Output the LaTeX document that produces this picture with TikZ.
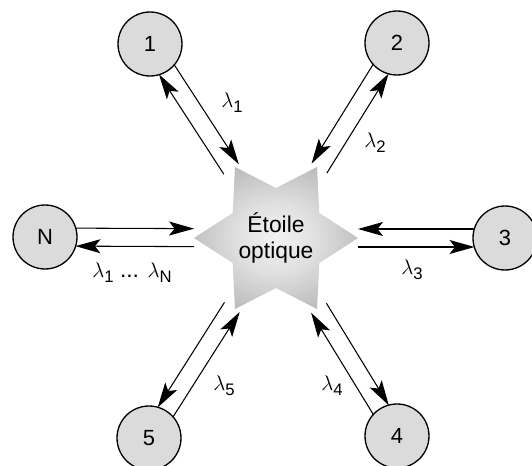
\documentclass[tikz,border=0pt]{standalone}
\usepackage{fontspec}
\setmainfont{Liberation Sans}
\usetikzlibrary{calc,arrows.meta}

\newcommand{\lam}[1]{$\lambda$\raisebox{-3pt}{\fontsize{9.5}{10}\selectfont #1}}
\pgfdeclareradialshading{starshade}{\pgfpoint{0bp}{0bp}}{color(0bp)=(black!5); color(12bp)=(black!12); color(50bp)=(black!48)}

\begin{document}
\begin{tikzpicture}[x=0.02cm, y=-0.02cm,
    station/.style={circle, draw, line width=0.75pt, fill=black!14, minimum size=1.28cm, inner sep=0pt, font=\fontsize{12.5}{14}\selectfont},
    fibre/.style={line width=0.6pt, -{Stealth[length=0.5cm, width=0.28cm, inset=0.11cm]}},
    lbl/.style={font=\fontsize{13}{14}\selectfont}]
  \useasboundingbox (0,0) rectangle (532,466);

  % Draw the optical star
  \begin{scope}[shift={(276,238)}]
    \shade[shading=starshade] (0:82) \foreach \a in {30,90,...,330} {-- (\a:50) -- (\a+30:82)} -- cycle;
  \end{scope}
  \node[align=center, font=\fontsize{13}{15}\selectfont] (star) at (276,238) {Étoile\\optique};

  % Draw the stations
  \node[station] (c1) at (150,44) {1};
  \node[station] (c2) at (397,43) {2};
  \node[station] (c3) at (505,238) {3};
  \node[station] (c4) at (397,436) {4};
  \node[station] (c5) at (149,438) {5};
  \node[station] (cN) at (45,237) {N};

  % Fibres to and from the star
  \foreach \n/\s/\t in {c1/90/-90, cN/90/-90, c5/-90/90, c2/-90/90, c3/-90/90, c4/90/-90} {
    \draw[fibre, shorten <=0.61cm, shorten >=1.64cm] ($(\n)!0.18cm!\s:(star)$) -- ($(star)!0.18cm!\t:(\n)$);
    \draw[fibre, shorten <=1.64cm, shorten >=0.61cm] ($(star)!0.18cm!\s:(\n)$) -- ($(\n)!0.18cm!\t:(star)$);
  }

  % Wavelengths
  \node[lbl] (l1) at (232,103) {\lam{1}};
  \node[lbl] (l2) at (375,143) {\lam{2}};
  \node[lbl] (l3) at (412,270) {\lam{3}};
  \node[lbl] (l4) at (332,386) {\lam{4}};
  \node[lbl] (l5) at (224,386) {\lam{5}};
  \node[lbl] (lN) at (132,273) {\lam{1} ... \lam{N}};
\end{tikzpicture}
\end{document}
